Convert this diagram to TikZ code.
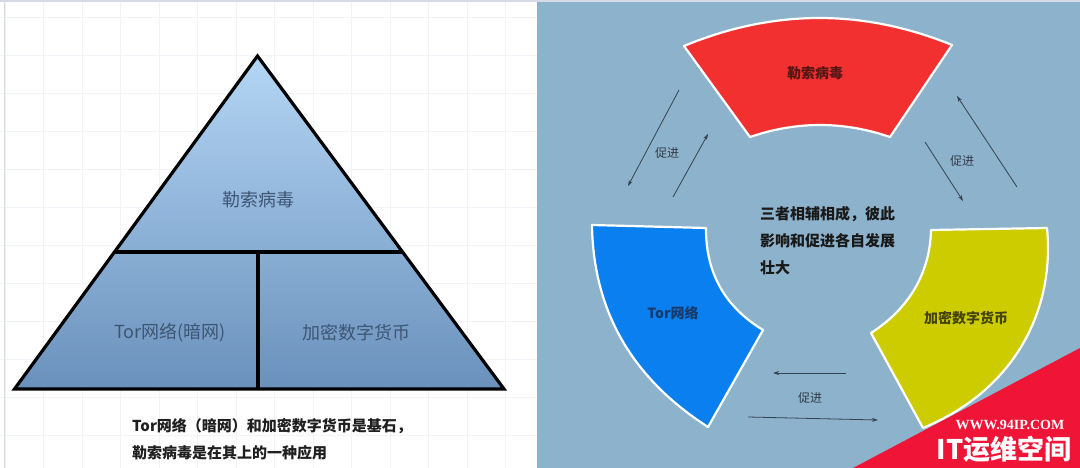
\documentclass[tikz,border=0pt]{standalone}
\usepackage{fontspec}
\newfontfamily\cjk{Noto Sans CJK SC}
\newfontfamily\wmserif{Liberation Serif}
\usetikzlibrary{arrows.meta,calc}
\definecolor{panelblue}{RGB}{141,178,203}
\definecolor{gridc}{RGB}{242,243,248}
\definecolor{topc}{RGB}{214,218,230}
\definecolor{triTop}{RGB}{180,214,245}
\definecolor{triBot}{RGB}{106,145,188}
\definecolor{trilbl}{RGB}{62,86,116}
\definecolor{redsec}{RGB}{242,48,48}
\definecolor{bluesec}{RGB}{10,128,240}
\definecolor{yelsec}{RGB}{204,204,0}
\definecolor{arrowc}{RGB}{52,66,82}
\definecolor{labelc}{RGB}{50,60,72}
\definecolor{wmred}{RGB}{240,20,55}
\begin{document}
\begin{tikzpicture}[x=1pt,y=-1pt,
  sector/.style={draw=white,line width=2.2pt,line join=round},
  prom/.style={draw=arrowc,line width=0.8pt,-{Stealth[length=6pt,width=4pt]}},
  promlbl/.style={font=\cjk\fontsize{12}{12}\selectfont,text=labelc,inner sep=0pt},
  trilbl/.style={font=\cjk\fontsize{18}{18}\selectfont,text=trilbl,inner sep=0pt},
  seclbl/.style={font=\cjk\bfseries\fontsize{14}{14}\selectfont,inner sep=0pt},
  caption/.style={font=\cjk\bfseries\fontsize{15}{15}\selectfont,text=black!88,inner sep=0pt,anchor=west},
  center/.style={font=\cjk\bfseries\fontsize{15}{15}\selectfont,text=black!90,inner sep=0pt,anchor=west},
  tribord/.style={line width=3.2pt,line join=miter}
]
\useasboundingbox (0,0) rectangle (1080,468);
% panels
\fill[white] (0,0) rectangle (537,468);
\foreach \x in {5,43.5,...,537} \draw[gridc,line width=0.6pt] (\x,0) -- (\x,468);
\foreach \y in {17,55,...,468} \draw[gridc,line width=0.6pt] (0,\y) -- (537,\y);
\draw[topc,line width=0.8pt] (4,0) -- (4,468);
\fill[panelblue] (537,0) rectangle (1080,468);
\fill[topc] (0,0) rectangle (1080,2);

% ---------- left: pyramid ----------
\coordinate (apex) at (257.5,56);
\coordinate (bl) at (14.5,389);
\coordinate (br) at (504,389);
\coordinate (dl) at ($(apex)!0.5886!(bl)$);
\coordinate (dr) at ($(apex)!0.5886!(br)$);
\coordinate (vt) at (258,252);
\coordinate (vb) at (258,389);
\shade[top color=triTop,bottom color=triBot] (apex) -- (bl) -- (br) -- cycle;
\draw[tribord] (apex) -- (bl) -- (br) -- cycle;
\draw[tribord] (dl) -- (dr);
\draw[tribord] (vt) -- (vb);
\node[trilbl] (ptop) at (258,200) {勒索病毒};
\node[trilbl] (pleft) at (170,333) {Tor网络(暗网)};
\node[trilbl] (pright) at (356,333) {加密数字货币};
\node[caption] (cap1) at (132,426) {Tor网络（暗网）和加密数字货币是基石，};
\node[caption] (cap2) at (132,453) {勒索病毒是在其上的一种应用};

% ---------- right: cycle ----------
% red sector
\fill[redsec] (684,46) .. controls (773.3,9) and (862.7,8.7) .. (952,45)
  -- (890,137) .. controls (843.3,121) and (796.7,121) .. (750,137) -- cycle;
\draw[sector] (684,46) .. controls (773.3,9) and (862.7,8.7) .. (952,45)
  -- (890,137) .. controls (843.3,121) and (796.7,121) .. (750,137) -- cycle;
% blue sector
\fill[bluesec] (592,225) -- (706,228) .. controls (705.7,272.7) and (724.7,306.7) .. (763,330)
  -- (708,427) .. controls (632,378.3) and (593.3,311) .. (592,225) -- cycle;
\draw[sector] (592,225) -- (706,228) .. controls (705.7,272.7) and (724.7,306.7) .. (763,330)
  -- (708,427) .. controls (632,378.3) and (593.3,311) .. (592,225) -- cycle;
% yellow sector
\fill[yelsec] (1047,228) -- (931,230) .. controls (930,272) and (910,308) .. (871,333)
  -- (923,428) .. controls (1015,390) and (1055,310) .. (1047,228) -- cycle;
\draw[sector] (1047,228) -- (931,230) .. controls (930,272) and (910,308) .. (871,333)
  -- (923,428) .. controls (1015,390) and (1055,310) .. (1047,228) -- cycle;

\node[seclbl,text={rgb,255:red,85;green,22;blue,22}] (sred) at (815,73) {勒索病毒};
\node[seclbl,text={rgb,255:red,22;green,58;blue,105}] (sblue) at (673,313) {Tor网络};
\node[seclbl,text={rgb,255:red,68;green,68;blue,12}] (syel) at (966,318) {加密数字货币};

% center text
\node[center] (c1) at (760,214) {三者相辅相成，彼此};
\node[center] (c2) at (760,241) {影响和促进各自发展};
\node[center] (c3) at (760,268) {壮大};

% promotion arrows
\coordinate (l1s) at (679,90);   \coordinate (l1e) at (628,186);
\coordinate (l2s) at (673,197);  \coordinate (l2e) at (708,134);
\coordinate (r1s) at (1017,187); \coordinate (r1e) at (957,96);
\coordinate (r2s) at (925,142);  \coordinate (r2e) at (963,201);
\coordinate (b1s) at (846,373);  \coordinate (b1e) at (773,373);
\coordinate (b2s) at (748,417);  \coordinate (b2e) at (878,420);
\draw[prom] (l1s) -- (l1e);
\draw[prom] (l2s) -- (l2e);
\draw[prom] (r1s) -- (r1e);
\draw[prom] (r2s) -- (r2e);
\draw[prom] (b1s) -- (b1e);
\draw[prom] (b2s) -- (b2e);
\node[promlbl] (pl) at (667,153) {促进};
\node[promlbl] (pr) at (962,161) {促进};
\node[promlbl] (pb) at (810,398) {促进};

% watermark
\fill[wmred] (853,468) -- (1080,348) -- (1080,468) -- cycle;
\node[font=\wmserif\bfseries\fontsize{14}{14}\selectfont,text=white,inner sep=0pt] (wm1) at (1010,425) {WWW.94IP.COM};
\node[font=\cjk\bfseries\fontsize{27}{27}\selectfont,text=white,inner sep=0pt] (wm2) at (1004,449) {IT运维空间};
\end{tikzpicture}
\end{document}
